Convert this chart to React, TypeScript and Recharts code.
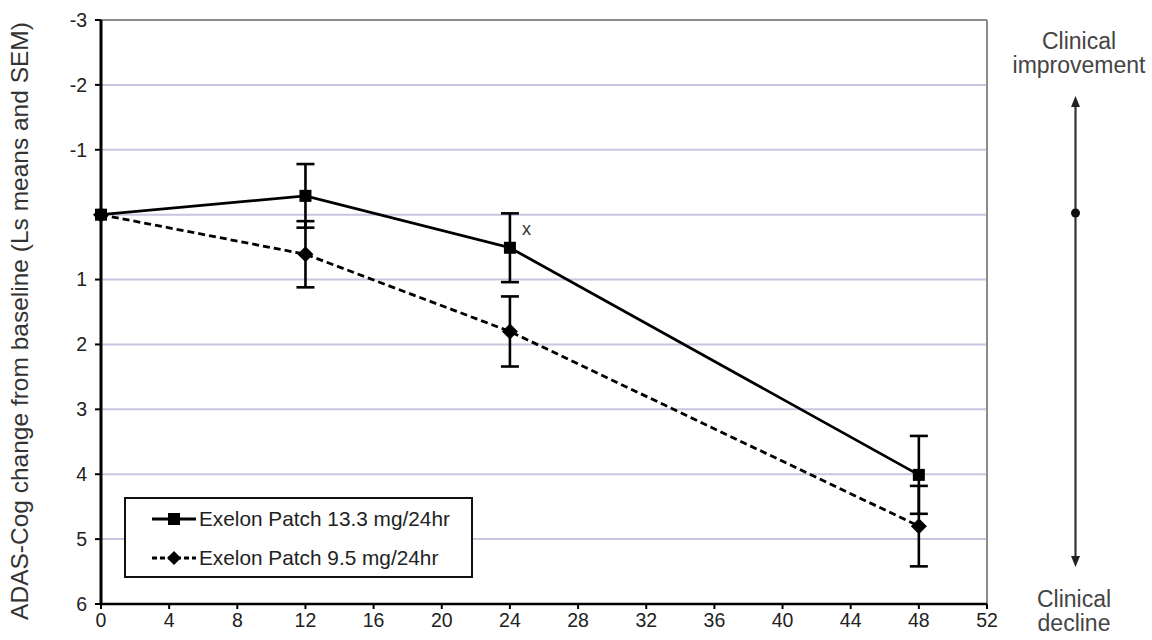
import React from 'react';
import {
  LineChart,
  Line,
  XAxis,
  YAxis,
  CartesianGrid,
  ErrorBar,
  ReferenceLine,
  LabelList
} from 'recharts';

const weeks = [0, 12, 24, 48];
const patch13 = [0, -0.29, 0.51, 4.01];
const patch13Sem = [0, 0.49, 0.53, 0.6];
const patch95 = [0, 0.61, 1.8, 4.8];
const patch95Sem = [0, 0.51, 0.54, 0.62];
const patch13Notes = ['', '', 'x', ''];

const xTicks = [0, 4, 8, 12, 16, 20, 24, 28, 32, 36, 40, 44, 48, 52];
const yTicks = [-3, -2, -1, 0, 1, 2, 3, 4, 5, 6];

const seriesNames = ['Exelon Patch 13.3 mg/24hr', 'Exelon Patch 9.5 mg/24hr'];
const yTitle = 'ADAS-Cog change from baseline (Ls means and SEM)';

const data = weeks.map((week, i) => ({
  week,
  p13: patch13[i],
  p13Err: patch13Sem[i],
  p95: patch95[i],
  p95Err: patch95Sem[i],
  note: patch13Notes[i]
}));

const FONT = 'Arial, "Liberation Sans", sans-serif';
const GRID = '#c9c5de';

const SquareDot = (props: any) => {
  const { cx, cy } = props;
  if (cx == null || cy == null) return null;
  return <rect x={cx - 6} y={cy - 6} width={12} height={12} fill="#000" />;
};

const DiamondDot = (props: any) => {
  const { cx, cy } = props;
  if (cx == null || cy == null) return null;
  const r = 8;
  return (
    <polygon
      points={`${cx},${cy - r} ${cx + r},${cy} ${cx},${cy + r} ${cx - r},${cy}`}
      fill="#000"
    />
  );
};

const NoteLabel = (props: any) => {
  const { x, y, value } = props;
  if (!value) return null;
  return (
    <text x={x + 12} y={y - 13} fontSize={18} fontFamily={FONT} fill="#333">
      {value}
    </text>
  );
};

const App: React.FC = () => {
  return (
    <div style={{ position: 'absolute', left: 0, top: 0, width: 1152, height: 640, background: '#fff' }}>
      <LineChart
        width={1152}
        height={640}
        data={data}
        margin={{ top: 20, right: 165, bottom: 0, left: 40 }}
      >
        <CartesianGrid vertical={false} stroke={GRID} strokeWidth={2} />
        <XAxis
          type="number"
          dataKey="week"
          domain={[0, 52]}
          ticks={xTicks}
          height={36}
          axisLine={{ stroke: '#000', strokeWidth: 2.5 }}
          tickLine={{ stroke: '#000', strokeWidth: 2 }}
          tickSize={5}
          tickMargin={4}
          tick={{ fill: '#222', fontSize: 19.5, fontFamily: FONT }}
          interval={0}
        />
        <YAxis
          type="number"
          domain={[-3, 6]}
          reversed
          ticks={yTicks}
          width={61}
          axisLine={{ stroke: '#000', strokeWidth: 3 }}
          tickLine={{ stroke: '#000', strokeWidth: 2 }}
          tickSize={6}
          tickMargin={8}
          tick={{ fill: '#222', fontSize: 19.5, fontFamily: FONT }}
          tickFormatter={(v: number) => (v === 0 ? '' : String(v))}
          interval={0}
        />
        <ReferenceLine y={-3} stroke="#8c8c8c" strokeWidth={2} />
        <ReferenceLine x={52} stroke="#8c8c8c" strokeWidth={2} />
        <Line
          dataKey="p95"
          stroke="#000"
          strokeWidth={2.8}
          strokeDasharray="7 4"
          dot={<DiamondDot />}
          activeDot={false}
          isAnimationActive={false}
        >
          <ErrorBar dataKey="p95Err" width={9} stroke="#000" strokeWidth={2.6} />
        </Line>
        <Line
          dataKey="p13"
          stroke="#000"
          strokeWidth={2.8}
          dot={<SquareDot />}
          activeDot={false}
          isAnimationActive={false}
        >
          <ErrorBar dataKey="p13Err" width={9} stroke="#000" strokeWidth={2.6} />
          <LabelList dataKey="note" content={<NoteLabel />} />
        </Line>
      </LineChart>

      <svg
        width={1152}
        height={640}
        style={{ position: 'absolute', left: 0, top: 0, pointerEvents: 'none' }}
      >
        <text
          transform="translate(28, 321) rotate(-90)"
          textAnchor="middle"
          fontSize={24.5}
          fontFamily={FONT}
          fill="#333"
        >
          {yTitle}
        </text>

        <g fontFamily={FONT} fontSize={23} fill="#444" textAnchor="middle">
          <text x={1079} y={49}>Clinical</text>
          <text x={1079} y={73}>improvement</text>
          <text x={1074} y={607}>Clinical</text>
          <text x={1074} y={631}>decline</text>
        </g>
        <line x1={1075.5} y1={104} x2={1075.5} y2={558} stroke="#333" strokeWidth={2.2} />
        <polygon points="1075.5,96 1071,107 1080,107" fill="#222" />
        <polygon points="1075.5,567 1071,556 1080,556" fill="#222" />
        <circle cx={1075.5} cy={213} r={4.5} fill="#111" />
      </svg>

      <div
        style={{
          position: 'absolute',
          left: 124,
          top: 497,
          width: 345,
          height: 77,
          border: '2px solid #111',
          background: '#fff'
        }}
      >
        <svg width={345} height={77} style={{ position: 'absolute', left: 0, top: 0 }}>
          <line x1={26} y1={20} x2={70} y2={20} stroke="#000" strokeWidth={2.8} />
          <rect x={42} y={14} width={12} height={12} fill="#000" />
          <line x1={26} y1={59} x2={70} y2={59} stroke="#000" strokeWidth={2.8} strokeDasharray="5 3" />
          <polygon points="48,52 55,59 48,66 41,59" fill="#000" />
          <text x={73} y={27} fontFamily={FONT} fontSize={20.8} fill="#222">
            {seriesNames[0]}
          </text>
          <text x={73} y={66} fontFamily={FONT} fontSize={20.8} fill="#222">
            {seriesNames[1]}
          </text>
        </svg>
      </div>
    </div>
  );
};

export default App;
